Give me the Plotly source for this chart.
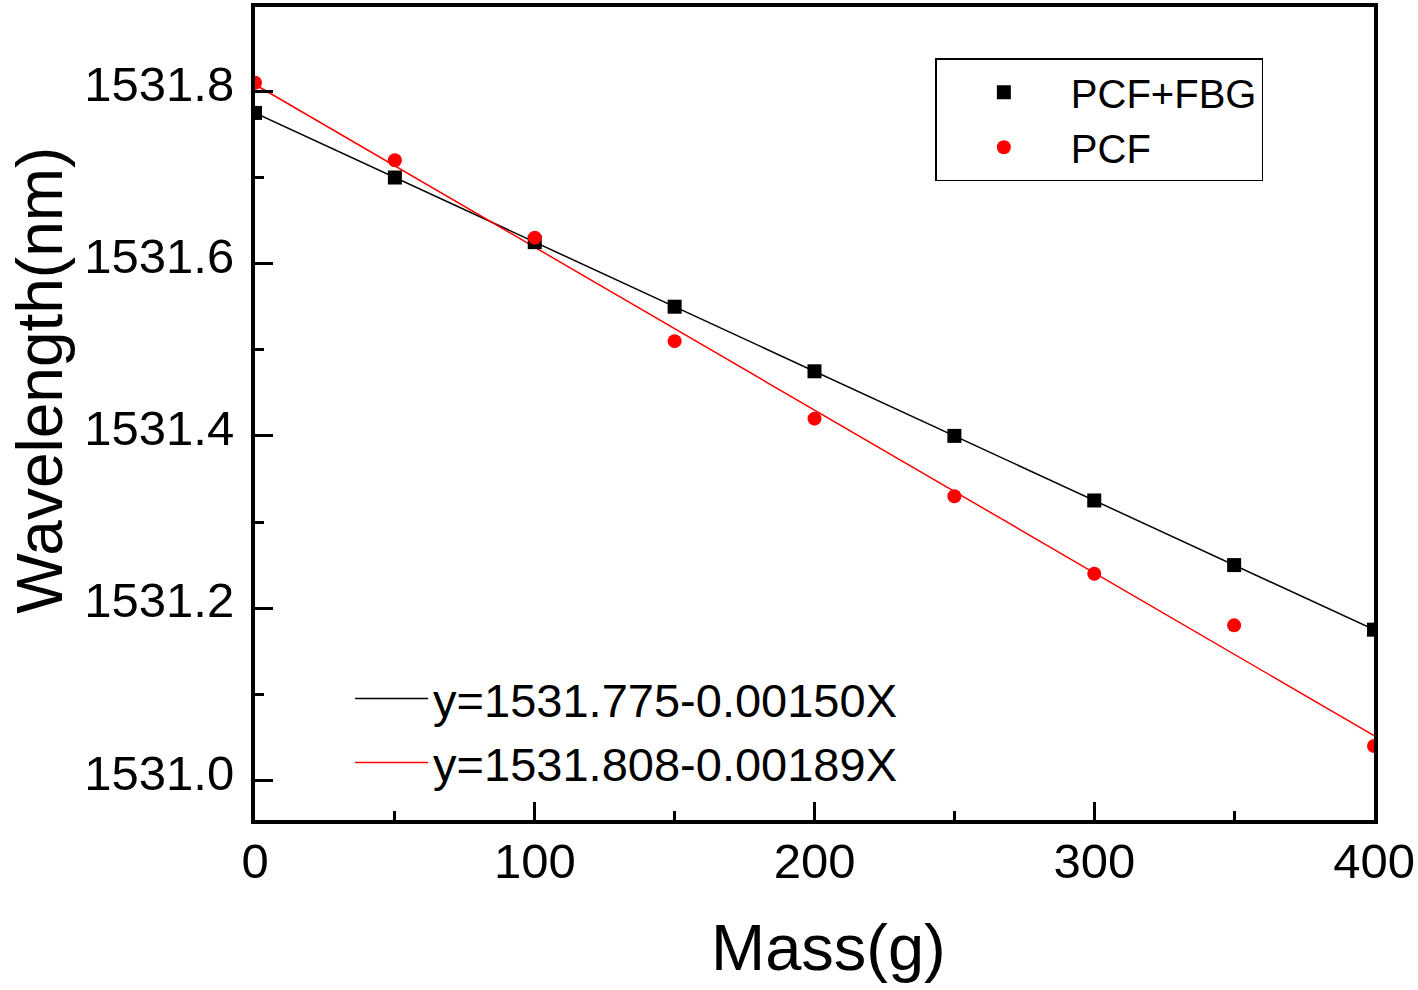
import plotly.graph_objects as go

mass = [0, 50, 100, 150, 200, 250, 300, 350, 400]
pcf_fbg = [1531.775, 1531.700, 1531.625, 1531.550, 1531.475, 1531.400, 1531.325, 1531.250, 1531.175]
pcf = [1531.810, 1531.720, 1531.630, 1531.510, 1531.420, 1531.330, 1531.240, 1531.180, 1531.040]

fit_fbg = (1531.775, -0.00150)
fit_pcf = (1531.808, -0.00189)
fit_x = [0, 400]
fit_fbg_label = "y=1531.775-0.00150X"
fit_pcf_label = "y=1531.808-0.00189X"

FONT = "Liberation Sans, Arial, sans-serif"

fig = go.Figure()
fig.add_trace(go.Scatter(
    x=fit_x, y=[fit_fbg[0] + fit_fbg[1] * v for v in fit_x], mode="lines",
    line=dict(color="black", width=1.5), name=fit_fbg_label, legend="legend2"))
fig.add_trace(go.Scatter(
    x=fit_x, y=[fit_pcf[0] + fit_pcf[1] * v for v in fit_x], mode="lines",
    line=dict(color="red", width=1.5), name=fit_pcf_label, legend="legend2"))
fig.add_trace(go.Scatter(
    x=mass, y=pcf_fbg, mode="markers", name="PCF+FBG",
    marker=dict(symbol="square", size=14, color="black")))
fig.add_trace(go.Scatter(
    x=mass, y=pcf, mode="markers", name="PCF",
    marker=dict(symbol="circle", size=14, color="red")))

axis_common = dict(
    showline=True, linecolor="black", linewidth=4, mirror=True,
    ticks="inside", ticklen=18, tickwidth=3, tickcolor="black",
    showgrid=False, zeroline=False,
    tickfont=dict(family=FONT, size=49, color="black"),
)

fig.update_layout(
    width=1418, height=990,
    margin=dict(l=255, r=41, t=3, b=170),
    plot_bgcolor="white", paper_bgcolor="white",
    font=dict(family=FONT, color="black"),
    xaxis=dict(range=[0, 400], dtick=100, tick0=0,
               minor=dict(dtick=50, ticks="inside", ticklen=9, tickwidth=3, tickcolor="black"),
               ticklabelstandoff=-5,
               **axis_common),
    yaxis=dict(range=[1530.954, 1531.898], dtick=0.2, tick0=1531.0, tickformat=".1f",
               minor=dict(dtick=0.1, ticks="inside", ticklen=9, tickwidth=3, tickcolor="black"),
               ticklabelstandoff=7, ticklabelshift=-8,
               **axis_common),
    legend=dict(x=0.608, y=0.937, xanchor="left", yanchor="top",
                bordercolor="black", borderwidth=1.5, bgcolor="white",
                font=dict(family=FONT, size=40, color="black"),
                itemwidth=124, tracegroupgap=0),
    legend2=dict(x=0.085, y=0.195, xanchor="left", yanchor="top",
                 bgcolor="rgba(0,0,0,0)", borderwidth=0,
                 font=dict(family=FONT, size=47, color="black"),
                 itemwidth=73),
    showlegend=True,
    annotations=[
        dict(text="Mass(g)", xref="paper", yref="paper", x=(830 - 255) / 1122, y=-(948 - 820) / 817,
             xanchor="center", yanchor="middle", showarrow=False,
             font=dict(family=FONT, size=65, color="black")),
        dict(text="Wavelength(nm)", xref="paper", yref="paper", x=-(255 - 40) / 1122, y=(820 - 378) / 817,
             xanchor="center", yanchor="middle", showarrow=False, textangle=-90,
             font=dict(family=FONT, size=64, color="black")),
    ],
)

fig.write_html("out.html", post_script="document.body.style.margin='0';",
               config={"displayModeBar": False})
